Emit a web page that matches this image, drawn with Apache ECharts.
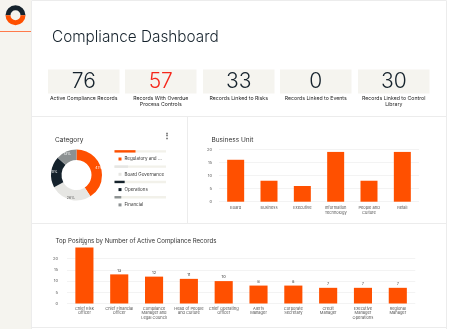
<!DOCTYPE html>
<html>
<head>
<meta charset="utf-8">
<script src="https://cdn.jsdelivr.net/npm/echarts@6/dist/echarts.min.js"></script>
<style>
  html, body { margin: 0; padding: 0; background: #ffffff; }
  #dash { width: 450px; height: 329px; }
</style>
</head>
<body>
<div id="dash"></div>
<script>
// KPI tiles
const kpiValues = [76, 57, 33, 0, 30];
const kpiLabels = [
  'Active Compliance Records',
  'Records With Overdue\nProcess Controls',
  'Records Linked to Risks',
  'Records Linked to Events',
  'Records Linked to Control\nLibrary'
];

// Category donut
const categoryNames = ['Regulatory and ...', 'Board Governance', 'Operations', 'Financial'];
const categoryValues = [31, 20, 15, 10];

// Business unit bars
const unitNames = ['Board', 'Business', 'Executive', 'Information\nTechnology', 'People and\nCulture', 'Retail'];
const unitValues = [16, 8, 6, 19, 8, 19];
const unitTicks = [0, 5, 10, 15, 20];

// Top positions bars
const positionNames = [
  'Chief Risk\nOfficer', 'Chief Financial\nOfficer', 'Compliance\nManager and\nLegal Council',
  'Head of People\nand Culture', 'Chief Operating\nOfficer', 'Alerts\nManager',
  'Corporate\nSecretary', 'Credit\nManager', 'Executive\nManager\nOperations', 'Regional\nManager'
];
const positionValues = [25, 13, 12, 11, 10, 8, 8, 7, 7, 7];

const FONT = 'Inter, "Noto Sans", sans-serif';
const ORANGE = '#ff5000';
const INK = '#15222c';
const categoryColors = [ORANGE, '#e6e6e3', INK, '#8c9192'];
const categoryLabelColors = ['#ffffff', '#555555', '#ffffff', '#ffffff'];
const total = categoryValues.reduce((a, b) => a + b, 0);

const chart = echarts.init(document.getElementById('dash'), null, { renderer: 'canvas' });

// page frame, sidebar, logo, dividers and KPI tiles
const graphics = [
  { type: 'rect', shape: { x: 0, y: 0, width: 31, height: 329 }, style: { fill: '#f5f4ef' }, z: -10 },
  { type: 'rect', shape: { x: 31.5, y: 0.5, width: 415, height: 340 }, style: { fill: 'none', stroke: '#ececec', lineWidth: 1 }, z: -9 },
  { type: 'line', shape: { x1: 0, y1: 31.5, x2: 31, y2: 31.5 }, style: { stroke: '#ff7a4a', lineWidth: 1 } },
  { type: 'sector', shape: { cx: 15.5, cy: 15.3, r: 10, r0: 5, startAngle: Math.PI, endAngle: Math.PI * 2 }, style: { fill: INK } },
  { type: 'sector', shape: { cx: 15.5, cy: 15.3, r: 10, r0: 5, startAngle: 0, endAngle: Math.PI }, style: { fill: ORANGE } },
  { type: 'line', shape: { x1: 31, y1: 116.5, x2: 447, y2: 116.5 }, style: { stroke: '#ececec', lineWidth: 1 } },
  { type: 'line', shape: { x1: 187.5, y1: 117, x2: 187.5, y2: 223 }, style: { stroke: '#ececec', lineWidth: 1 } },
  { type: 'line', shape: { x1: 31, y1: 223.5, x2: 447, y2: 223.5 }, style: { stroke: '#ececec', lineWidth: 1 } },
  { type: 'line', shape: { x1: 31, y1: 327.5, x2: 447, y2: 327.5 }, style: { stroke: '#ececec', lineWidth: 1 } },
  { type: 'text', left: 52, top: 30, style: { text: 'Compliance Dashboard', font: '300 15.3px ' + FONT, fill: INK } },
  { type: 'text', left: 162.5, top: 131.5, style: { text: '⋮', font: 'bold 8px ' + FONT, fill: '#333' } }
];

const tileX = [48, 125, 203, 280, 358];
kpiValues.forEach((v, i) => {
  graphics.push({ type: 'rect', shape: { x: tileX[i], y: 69.5, width: 71.5, height: 24 }, style: { fill: '#f5f4ef' }, z: -5 });
  graphics.push({
    type: 'text', x: tileX[i] + 35.75, y: 82,
    style: { text: String(v), font: '300 21px ' + FONT, fill: i === 1 ? '#f5261a' : INK, align: 'center', verticalAlign: 'middle' }
  });
  graphics.push({
    type: 'text', x: tileX[i] + 35.75, y: 95,
    style: { text: kpiLabels[i], font: '5.2px ' + FONT, lineHeight: 6.6, fill: '#222', align: 'center', verticalAlign: 'top' }
  });
});

const smallAxisLabel = { fontSize: 4, color: '#555', fontFamily: FONT };

chart.setOption({
  animation: false,
  textStyle: { fontFamily: FONT },
  title: [
    { text: 'Category', left: 50, top: 132, textStyle: { fontSize: 6.5, fontWeight: 'normal', color: '#333', fontFamily: FONT } },
    { text: 'Business Unit', left: 206.5, top: 132, textStyle: { fontSize: 6.5, fontWeight: 'normal', color: '#333', fontFamily: FONT } },
    { text: 'Top Positions by Number of Active Compliance Records', left: 50.5, top: 233, textStyle: { fontSize: 6.1, fontWeight: 'normal', color: '#333', fontFamily: FONT } }
  ],
  legend: {
    data: categoryNames,
    orient: 'vertical', left: 113.5, top: 151,
    icon: 'rect', itemWidth: 3, itemHeight: 3, itemGap: 9.3,
    textStyle: { fontSize: 4.5, color: '#333', lineHeight: 6, padding: [0, 0, 0, -2] },
    selectedMode: false
  },
  grid: [
    { left: 114.5, top: 143.7, width: 51.5, height: 61.2 },
    { left: 219, right: 31, top: 149.3, bottom: 127.3 },
    { left: 67, right: 34.8, top: 247.5, bottom: 25.5 }
  ],
  xAxis: [
    { gridIndex: 0, type: 'value', min: 0, max: total, show: false },
    {
      gridIndex: 1, type: 'category', data: unitNames,
      axisLine: { show: false }, axisTick: { show: false },
      axisLabel: Object.assign({ margin: 4, lineHeight: 4.6, interval: 0 }, smallAxisLabel)
    },
    {
      gridIndex: 2, type: 'category', data: positionNames,
      axisLine: { show: false }, axisTick: { show: false },
      axisLabel: Object.assign({ margin: 2.5, lineHeight: 4.6, interval: 0 }, smallAxisLabel)
    }
  ],
  yAxis: [
    { gridIndex: 0, type: 'category', data: categoryNames, inverse: true, show: false },
    {
      gridIndex: 1, type: 'value', min: unitTicks[0], max: unitTicks[unitTicks.length - 1], interval: 5,
      axisLabel: Object.assign({ margin: 7 }, smallAxisLabel),
      splitLine: { lineStyle: { color: '#f0f0f0', width: 0.8 } }
    },
    {
      gridIndex: 2, type: 'value', min: 0, max: 25, interval: 5,
      axisLabel: Object.assign({ margin: 9, formatter: v => (v === 25 ? '' : String(v)) }, smallAxisLabel),
      splitLine: { showMaxLine: false, lineStyle: { color: '#f0f0f0', width: 0.8 } }
    }
  ],
  series: [
    {
      type: 'pie', name: 'Category',
      center: [76.5, 175], radius: [15, 25.5], startAngle: 90, clockwise: true,
      avoidLabelOverlap: false,
      data: categoryNames.map((n, i) => ({
        name: n, value: categoryValues[i],
        itemStyle: { color: categoryColors[i] },
        label: { color: categoryLabelColors[i] }
      })),
      label: {
        show: true, position: 'inside', fontSize: 3.6,
        formatter: p => Math.round(p.percent) + '%'
      },
      labelLine: { show: false },
      emphasis: { disabled: true }
    },
    {
      type: 'bar', xAxisIndex: 0, yAxisIndex: 0, barWidth: 2.4,
      showBackground: true, backgroundStyle: { color: '#f2f1ea' },
      data: categoryValues.map((v, i) => ({ value: v, itemStyle: { color: categoryColors[i] } })),
      silent: true
    },
    {
      type: 'bar', xAxisIndex: 1, yAxisIndex: 1, barWidth: '51%',
      itemStyle: { color: ORANGE }, data: unitValues
    },
    {
      type: 'bar', xAxisIndex: 2, yAxisIndex: 2, barWidth: '52%',
      itemStyle: { color: ORANGE }, data: positionValues,
      label: { show: true, position: 'top', distance: 2, fontSize: 4, color: '#333' }
    }
  ],
  graphic: graphics
});
</script>
</body>
</html>
